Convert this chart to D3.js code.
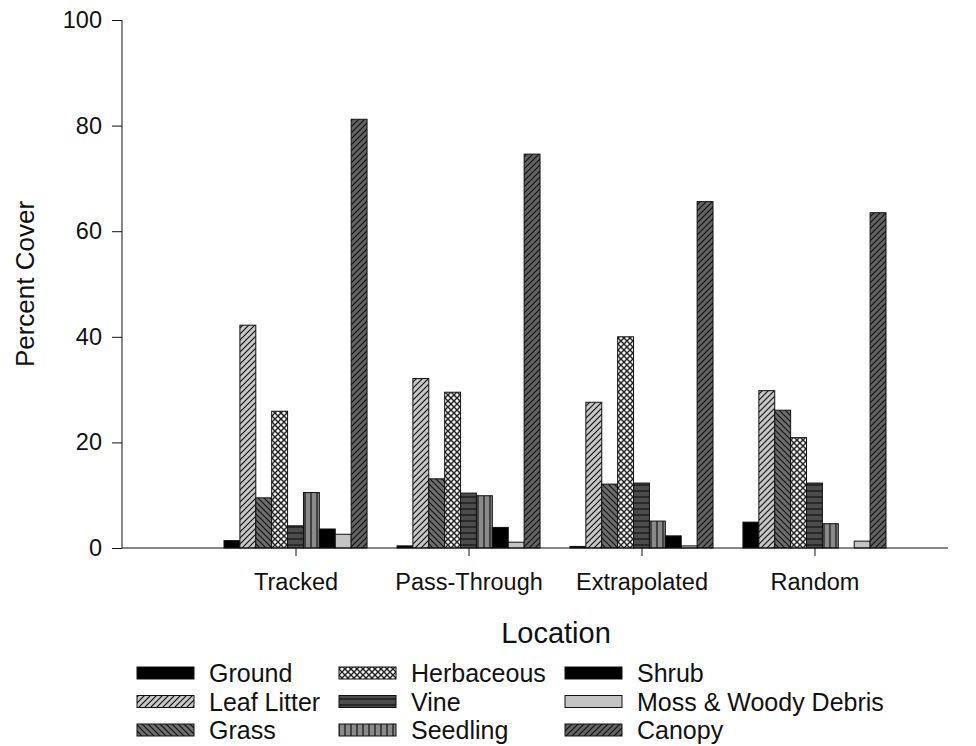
<!DOCTYPE html>
<html>
<head>
<meta charset="utf-8">
<script src="https://cdn.jsdelivr.net/npm/d3@7"></script>
<style>
  body { margin: 0; background: #fff; }
  svg { display: block; font-family: "Liberation Sans", Arial, sans-serif; }
</style>
</head>
<body>
<div id="chart"></div>
<script>
// data
const locations = ["Tracked", "Pass-Through", "Extrapolated", "Random"];
const covers = ["Ground", "Leaf Litter", "Grass", "Herbaceous", "Vine", "Seedling", "Shrub", "Moss & Woody Debris", "Canopy"];
const ground      = [1.4, 0.4, 0.3, 4.9];
const leafLitter  = [42.2, 32.1, 27.6, 29.8];
const grass       = [9.5, 13.1, 12.1, 26.1];
const herbaceous  = [25.9, 29.5, 40.0, 20.9];
const vine        = [4.2, 10.4, 12.3, 12.3];
const seedling    = [10.5, 9.9, 5.1, 4.6];
const shrub       = [3.6, 3.9, 2.3, 0];
const moss        = [2.6, 1.1, 0.4, 1.3];
const canopy      = [81.2, 74.6, 65.6, 63.5];
const yTicks = [0, 20, 40, 60, 80, 100];

const seriesValues = [ground, leafLitter, grass, herbaceous, vine, seedling, shrub, moss, canopy];

const W = 976, H = 746;
const margin = { left: 122, top: 20, right: 28, bottom: 198 };
const iw = W - margin.left - margin.right;
const ih = H - margin.top - margin.bottom;

const svg = d3.select("#chart").append("svg")
    .attr("width", W).attr("height", H);

// hatch fills
const defs = svg.append("defs");
function hatch(id, bg, draw, size) {
    const p = defs.append("pattern")
        .attr("id", id)
        .attr("patternUnits", "userSpaceOnUse")
        .attr("width", size).attr("height", size);
    p.append("rect").attr("width", size).attr("height", size).attr("fill", bg);
    draw(p, size);
}
const line = (p, d, w, c) => p.append("path").attr("d", d).attr("stroke", c || "#111").attr("stroke-width", w || 1.2).attr("fill", "none");
const fwd = (p, s, w, c) => line(p, `M0,${s} L${s},0 M${-s/2},${s/2} L${s/2},${-s/2} M${s/2},${s*1.5} L${s*1.5},${s/2}`, w, c);
const back = (p, s, w, c) => line(p, `M0,0 L${s},${s} M${-s/2},${s/2} L${s/2},${s*1.5} M${s/2},${-s/2} L${s*1.5},${s/2}`, w, c);

hatch("p-leaf", "#c8c8c8", fwd, 6);
hatch("p-grass", "#6e6e6e", back, 6);
hatch("p-canopy", "#636363", fwd, 6);
hatch("p-herb", "#f4f4f4", (p, s) => { fwd(p, s, 1.4, "#222"); back(p, s, 1.4, "#222"); }, 6);
hatch("p-vine", "#4c4c4c", (p, s) => line(p, `M0,${s/2} L${s},${s/2}`), 6);
hatch("p-seed", "#8a8a8a", (p, s) => line(p, `M${s/2},0 L${s/2},${s}`), 6);

const fills = ["#000", "url(#p-leaf)", "url(#p-grass)", "url(#p-herb)", "url(#p-vine)",
               "url(#p-seed)", "#000", "#c4c4c4", "url(#p-canopy)"];

const g = svg.append("g").attr("transform", `translate(${margin.left},${margin.top})`);

const y = d3.scaleLinear().domain([0, 100]).range([ih, 0]);
const x0 = d3.scaleBand().domain(locations).range([102, 764]).paddingInner(0.173).paddingOuter(0);
const x1 = d3.scaleBand().domain(covers).range([0, x0.bandwidth()]);

// bars
locations.forEach((loc, li) => {
    const grp = g.append("g").attr("transform", `translate(${x0(loc)},0)`);
    covers.forEach((c, ci) => {
        const v = seriesValues[ci][li];
        if (v <= 0) return;
        grp.append("rect")
            .attr("x", x1(c))
            .attr("y", y(v))
            .attr("width", x1.bandwidth())
            .attr("height", ih - y(v))
            .attr("fill", fills[ci])
            .attr("stroke", "#111")
            .attr("stroke-width", 1);
    });
});

// axes
const yAxis = g.append("g")
    .call(d3.axisLeft(y).tickValues(yTicks).tickSize(10).tickSizeOuter(0).tickPadding(10));
yAxis.select(".domain").remove();
yAxis.selectAll("text").attr("font-size", 23.5).attr("fill", "#111");
yAxis.selectAll("line").attr("stroke", "#111");

const xCenter = d3.scalePoint().domain(locations)
    .range([x0(locations[0]) + x0.bandwidth() / 2, x0(locations[3]) + x0.bandwidth() / 2]);
const xAxis = g.append("g").attr("transform", `translate(0,${ih})`)
    .call(d3.axisBottom(xCenter).tickSize(8).tickSizeOuter(0).tickPadding(17));
xAxis.select(".domain").remove();
xAxis.selectAll("text").attr("font-size", 23.5).attr("fill", "#111");
xAxis.selectAll("line").attr("stroke", "#111");

g.append("line").attr("x1", 0).attr("x2", 0).attr("y1", 0).attr("y2", ih).attr("stroke", "#111");
g.append("line").attr("x1", 0).attr("x2", iw).attr("y1", ih).attr("y2", ih).attr("stroke", "#111");

// titles
svg.append("text")
    .attr("transform", `translate(34,${margin.top + ih / 2}) rotate(-90)`)
    .attr("text-anchor", "middle")
    .attr("font-size", 26).attr("fill", "#111")
    .text("Percent Cover");

svg.append("text")
    .attr("x", 556).attr("y", 643)
    .attr("text-anchor", "middle")
    .attr("font-size", 29).attr("fill", "#111")
    .text("Location");

// legend, filled column by column
const legCols = [137, 339, 565];
const legRows = [673, 701.5, 730];
covers.forEach((c, i) => {
    const cx = legCols[Math.floor(i / 3)], cy = legRows[i % 3];
    svg.append("rect")
        .attr("x", cx).attr("y", cy - 6)
        .attr("width", 57).attr("height", 12)
        .attr("fill", fills[i]).attr("stroke", "#111").attr("stroke-width", 1);
    svg.append("text")
        .attr("x", cx + 72).attr("y", cy + 9)
        .attr("font-size", 25).attr("fill", "#111")
        .text(c);
});
</script>
</body>
</html>
